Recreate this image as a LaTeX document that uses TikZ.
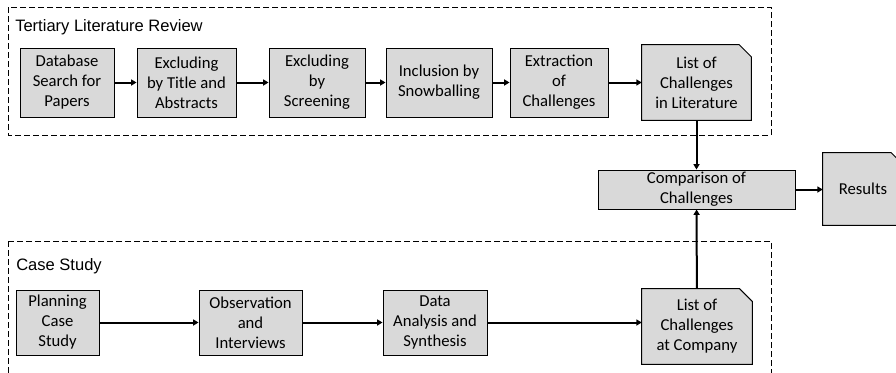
\documentclass[tikz,border=0pt]{standalone}
\usepackage{fontspec}
\setmainfont{Carlito}
\newfontfamily\titlefont{Liberation Sans}
\usetikzlibrary{arrows.meta,backgrounds}
\definecolor{boxgray}{HTML}{D9D9D9}
\tikzset{
  boxtext/.style={align=center, inner sep=0pt, font=\fontsize{12.5}{15}\selectfont},
  stepbox/.style={boxtext, draw=black, fill=boxgray, line width=0.75pt},
  docbox/.style={boxtext},
  docshape/.style={draw=black, fill=boxgray, line width=0.75pt, line join=miter},
  flow/.style={line width=1.5pt, -{Triangle[length=4pt,width=4.5pt]}},
  groupframe/.style={draw=black, dash pattern=on 4.5pt off 2.25pt, line width=0.75pt},
  grouptitle/.style={anchor=base west, inner sep=0pt, font=\titlefont\fontsize{12.4}{14}\selectfont}
}
% document symbol with a folded top-right corner, drawn behind node #1
\newcommand\dogear[2]{%
  \draw[docshape] (#1.south west) -- (#1.north west) -- ([xshift=-#2]#1.north east)
    -- ([yshift=-#2]#1.north east) -- (#1.south east) -- cycle;}
\begin{document}
\begin{tikzpicture}[x=0.75pt, y=-0.75pt]
\useasboundingbox (0,0) rectangle (896,372);
\clip (0,0) rectangle (896,372);

% group frames
\draw[groupframe] (8,7) rectangle (771,135);
\draw[groupframe] (8,241) rectangle (771,390);
\node[grouptitle] (tlrtitle) at (15,31) {Tertiary Literature Review};
\node[grouptitle] (cstitle) at (16,270) {Case Study};

% literature review steps
\node[stepbox, minimum width=70.5pt, minimum height=51.75pt] (db) at (67,82.5) {Database\\Search for\\Papers};
\node[stepbox, minimum width=74.25pt, minimum height=51.75pt] (ex1) at (186.5,82.5) {Excluding\\by Title and\\Abstracts};
\node[stepbox, minimum width=72pt, minimum height=51.75pt] (ex2) at (317,82.5) {Excluding\\by\\Screening};
\node[stepbox, minimum width=79.5pt, minimum height=51.75pt] (inc) at (439,82.5) {Inclusion by\\Snowballing};
\node[stepbox, minimum width=73.5pt, minimum height=51.75pt] (ext) at (559,82.5) {Extraction\\of\\Challenges};
\node[docbox, minimum width=81.75pt, minimum height=56.25pt] (lit) at (696.5,82.5) {List of\\Challenges\\in Literature};

% comparison and result
\node[stepbox, minimum width=147.75pt, minimum height=29.25pt] (cmp) at (696.5,189.5) {Comparison of\\Challenges};
\node[docbox, minimum width=60pt, minimum height=54pt] (res) at (863,189) {Results};

% case study steps
\node[stepbox, minimum width=62.25pt, minimum height=48.75pt] (plan) at (57.5,322.5) {Planning\\Case\\Study};
\node[stepbox, minimum width=77.25pt, minimum height=48.75pt] (obs) at (250.5,322.5) {Observation\\and\\Interviews};
\node[stepbox, minimum width=78pt, minimum height=48.75pt] (dat) at (435,322.5) {Data\\Analysis and\\Synthesis};
\node[docbox, minimum width=82.5pt, minimum height=56.25pt] (com) at (697,326.5) {List of\\Challenges\\at Company};

\begin{scope}[on background layer]
  \dogear{lit}{9pt}
  \dogear{res}{9pt}
  \dogear{com}{9.5pt}
\end{scope}

% connectors
\draw[flow] (db) -- (ex1);
\draw[flow] (ex1) -- (ex2);
\draw[flow] (ex2) -- (inc);
\draw[flow] (inc) -- (ext);
\draw[flow] (ext) -- (lit);
\draw[flow] (lit) -- (cmp);
\draw[flow] (com) -- (cmp);
\draw[flow] (cmp) -- (cmp -| res.west);
\draw[flow] (plan) -- (obs);
\draw[flow] (obs) -- (dat);
\draw[flow] (dat) -- (dat -| com.west);
\end{tikzpicture}
\end{document}
